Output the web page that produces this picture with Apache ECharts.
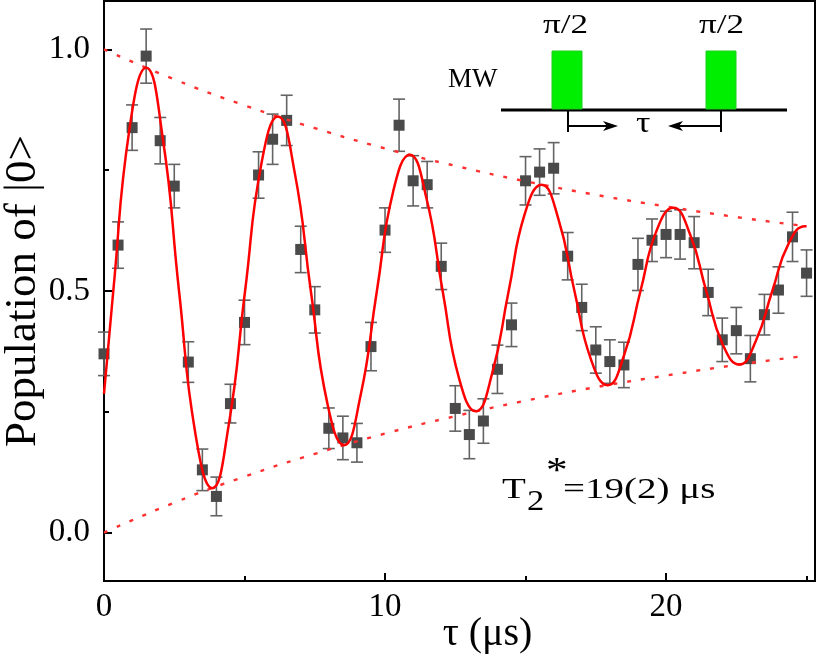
<!DOCTYPE html>
<html>
<head>
<meta charset="utf-8">
<script src="https://cdn.jsdelivr.net/npm/echarts@6/dist/echarts.min.js"></script>
<style>
html, body { margin: 0; padding: 0; background: #fff; }
#main { width: 817px; height: 661px; }
</style>
</head>
<body>
<div id="main"></div>
<script>
// measured points (tau in us)
var tau = [0, 0.5, 1, 1.5, 2, 2.5, 3, 3.5, 4, 4.5, 5, 5.5, 6, 6.5, 7, 7.5, 8, 8.5, 9, 9.5,
  10, 10.5, 11, 11.5, 12, 12.5, 13, 13.5, 14, 14.5, 15, 15.5, 16, 16.5, 17, 17.5, 18, 18.5, 19, 19.5,
  20, 20.5, 21, 21.5, 22, 22.5, 23, 23.5, 24, 24.5, 25];
var population = [0.37, 0.595, 0.838, 0.986, 0.811, 0.717, 0.353, 0.13, 0.075, 0.267,
  0.435, 0.74, 0.814, 0.853, 0.586, 0.461, 0.216, 0.196, 0.186, 0.385,
  0.626, 0.843, 0.728, 0.72, 0.551, 0.257, 0.203, 0.231, 0.338, 0.43,
  0.728, 0.746, 0.754, 0.572, 0.466, 0.378, 0.354, 0.347, 0.555, 0.605,
  0.617, 0.617, 0.6, 0.497, 0.399, 0.418, 0.36, 0.451, 0.502, 0.612, 0.537];
var errBar = [0.045, 0.048, 0.047, 0.056, 0.048, 0.045, 0.042, 0.043, 0.04, 0.04,
  0.046, 0.048, 0.052, 0.052, 0.048, 0.048, 0.042, 0.045, 0.04, 0.05,
  0.046, 0.054, 0.052, 0.048, 0.048, 0.047, 0.05, 0.046, 0.05, 0.045,
  0.05, 0.048, 0.053, 0.049, 0.048, 0.048, 0.045, 0.047, 0.054, 0.044,
  0.048, 0.051, 0.054, 0.048, 0.045, 0.048, 0.048, 0.042, 0.048, 0.051, 0.048];

// fitted curve
var fitT = [0, 0.33, 0.91, 1.5, 2.09, 2.67, 3.26, 3.85, 4.43, 5.02, 5.6, 6.19, 6.78, 7.36, 7.95,
  8.54, 9.12, 9.71, 10.29, 10.88, 11.47, 12.05, 12.64, 13.23, 13.81, 14.4, 14.98, 15.57, 16.16,
  16.74, 17.33, 17.92, 18.5, 19.09, 19.67, 20.26, 20.85, 21.43, 22.02, 22.61, 23.19, 23.78,
  24.36, 24.95, 25];
var fitY = [0.287, 0.5, 0.837, 0.962, 0.817, 0.5, 0.202, 0.092, 0.22, 0.5, 0.763, 0.861, 0.747,
  0.5, 0.267, 0.181, 0.281, 0.5, 0.706, 0.782, 0.693, 0.5, 0.318, 0.251, 0.329, 0.5, 0.661,
  0.72, 0.651, 0.5, 0.358, 0.305, 0.366, 0.5, 0.626, 0.672, 0.618, 0.5, 0.389, 0.348, 0.396,
  0.5, 0.598, 0.634, 0.634];

// decay envelope
var envT = [0, 2.5, 5, 7.5, 10, 12.5, 15, 17.5, 20, 22.5, 25];
var envUpper = [1.0, 0.938, 0.884, 0.837, 0.795, 0.759, 0.727, 0.699, 0.675, 0.653, 0.634];
var envLower = [0.0, 0.062, 0.116, 0.163, 0.205, 0.241, 0.273, 0.301, 0.325, 0.347, 0.366];

var xMajor = [0, 10, 20];
var xMinor = [5, 15, 25];
var yMajor = [0, 0.5, 1];
var yMinor = [0.25, 0.75];

var serif = '"Liberation Serif", "Times New Roman", serif';
var myChart = echarts.init(document.getElementById('main'));

function pairs(xs, ys) {
  return xs.map(function (x, i) { return [x, ys[i]]; });
}

function txt(x, y, s, size, sx) {
  return {
    type: 'text', x: x, y: y, scaleX: sx || 1,
    style: { text: s, font: size + 'px ' + serif, fill: '#000', align: 'left', verticalAlign: 'middle' }
  };
}

option = {
  animation: false,
  grid: {
    left: 104, right: 2, top: 1, bottom: 80,
    containLabel: false, outerBoundsMode: 'none',
    show: true, borderColor: '#000', borderWidth: 2, backgroundColor: 'transparent'
  },
  xAxis: [{
    type: 'value', min: 0, max: 25.3,
    name: 'τ (μs)', nameLocation: 'middle', nameGap: 33, nameMoveOverlap: false,
    nameTextStyle: { fontFamily: serif, fontSize: 40, color: '#000', padding: [0, 0, 0, 56] },
    axisLine: { onZero: false, lineStyle: { color: '#000', width: 2 } },
    axisTick: { inside: true, length: 8, lineStyle: { color: '#000', width: 2 }, customValues: xMajor },
    axisLabel: { customValues: xMajor, fontFamily: serif, fontSize: 33, color: '#000', margin: 10 },
    splitLine: { show: false }
  }, {
    type: 'value', min: 0, max: 25.3, position: 'bottom',
    axisLine: { show: false, onZero: false },
    axisTick: { inside: true, length: 5, lineStyle: { color: '#000', width: 2 }, customValues: xMinor },
    axisLabel: { show: false },
    splitLine: { show: false }
  }],
  yAxis: [{
    type: 'value', min: -0.1, max: 1.1,
    name: 'Population of |0>', nameLocation: 'middle', nameGap: 58, nameRotate: 90, nameMoveOverlap: false,
    nameTextStyle: { fontFamily: serif, fontSize: 45, color: '#000' },
    axisLine: { show: true, onZero: false, lineStyle: { color: '#000', width: 2 } },
    axisTick: { inside: true, length: 8, lineStyle: { color: '#000', width: 2 }, customValues: yMajor },
    axisLabel: {
      customValues: yMajor, fontFamily: serif, fontSize: 33, color: '#000', margin: 14,
      formatter: function (v) { return v.toFixed(1); }
    },
    splitLine: { show: false }
  }, {
    type: 'value', min: -0.1, max: 1.1, position: 'left',
    axisLine: { show: false, onZero: false },
    axisTick: { inside: true, length: 5, lineStyle: { color: '#000', width: 2 }, customValues: yMinor },
    axisLabel: { show: false },
    splitLine: { show: false }
  }],
  series: [{
    type: 'custom',
    name: 'error',
    z: 1,
    data: tau.map(function (t, i) { return [t, population[i] - errBar[i], population[i] + errBar[i]]; }),
    encode: { x: 0, y: [1, 2] },
    renderItem: function (params, api) {
      var x = api.value(0);
      var top = api.coord([x, api.value(2)]);
      var bot = api.coord([x, api.value(1)]);
      var cap = 6;
      var st = { stroke: '#646464', lineWidth: 1.6 };
      return {
        type: 'group',
        children: [
          { type: 'line', shape: { x1: top[0], y1: top[1], x2: bot[0], y2: bot[1] }, style: st },
          { type: 'line', shape: { x1: top[0] - cap, y1: top[1], x2: top[0] + cap, y2: top[1] }, style: st },
          { type: 'line', shape: { x1: bot[0] - cap, y1: bot[1], x2: bot[0] + cap, y2: bot[1] }, style: st }
        ]
      };
    }
  }, {
    type: 'scatter',
    z: 2,
    symbol: 'rect',
    symbolSize: 11,
    itemStyle: { color: '#4a4a4a', opacity: 1 },
    data: pairs(tau, population)
  }, {
    type: 'line',
    z: 3,
    smooth: true,
    showSymbol: false,
    lineStyle: { color: '#ff3030', width: 2.4, type: [4, 10] },
    data: pairs(envT, envUpper)
  }, {
    type: 'line',
    z: 3,
    smooth: true,
    showSymbol: false,
    lineStyle: { color: '#ff3030', width: 2.4, type: [4, 10] },
    data: pairs(envT, envLower)
  }, {
    type: 'line',
    z: 4,
    smooth: 0.5,
    showSymbol: false,
    lineStyle: { color: '#ff0000', width: 2.5 },
    data: pairs(fitT, fitY)
  }],
  graphic: [
    // pulse sequence inset
    txt(448, 80, 'MW', 27),
    { type: 'line', shape: { x1: 501, y1: 110, x2: 787, y2: 110 }, style: { stroke: '#000', lineWidth: 3 } },
    { type: 'rect', shape: { x: 552, y: 51, width: 30, height: 58 }, style: { fill: '#00ee00', stroke: '#22cc22', lineWidth: 1 } },
    { type: 'rect', shape: { x: 706, y: 51, width: 30, height: 58 }, style: { fill: '#00ee00', stroke: '#22cc22', lineWidth: 1 } },
    txt(543, 26, 'π/2', 27, 1.3),
    txt(699, 26, 'π/2', 27, 1.3),
    { type: 'line', shape: { x1: 568, y1: 110, x2: 568, y2: 132 }, style: { stroke: '#000', lineWidth: 2 } },
    { type: 'line', shape: { x1: 721, y1: 110, x2: 721, y2: 132 }, style: { stroke: '#000', lineWidth: 2 } },
    { type: 'line', shape: { x1: 568, y1: 126, x2: 612, y2: 126 }, style: { stroke: '#000', lineWidth: 2 } },
    { type: 'polygon', shape: { points: [[603, 121], [618, 126], [603, 131], [607, 126]] }, style: { fill: '#000' } },
    { type: 'line', shape: { x1: 721, y1: 126, x2: 674, y2: 126 }, style: { stroke: '#000', lineWidth: 2 } },
    { type: 'polygon', shape: { points: [[683, 121], [668, 126], [683, 131], [679, 126]] }, style: { fill: '#000' } },
    txt(636, 124, 'τ', 30, 1.2),
    // T2* annotation
    txt(502, 490, 'T', 30, 1.3),
    txt(527, 502, '2', 30, 1.15),
    txt(546, 473, '*', 36, 1.2),
    txt(563, 490, '=19(2) μs', 30, 1.3)
  ]
};
myChart.setOption(option);
</script>
</body>
</html>
